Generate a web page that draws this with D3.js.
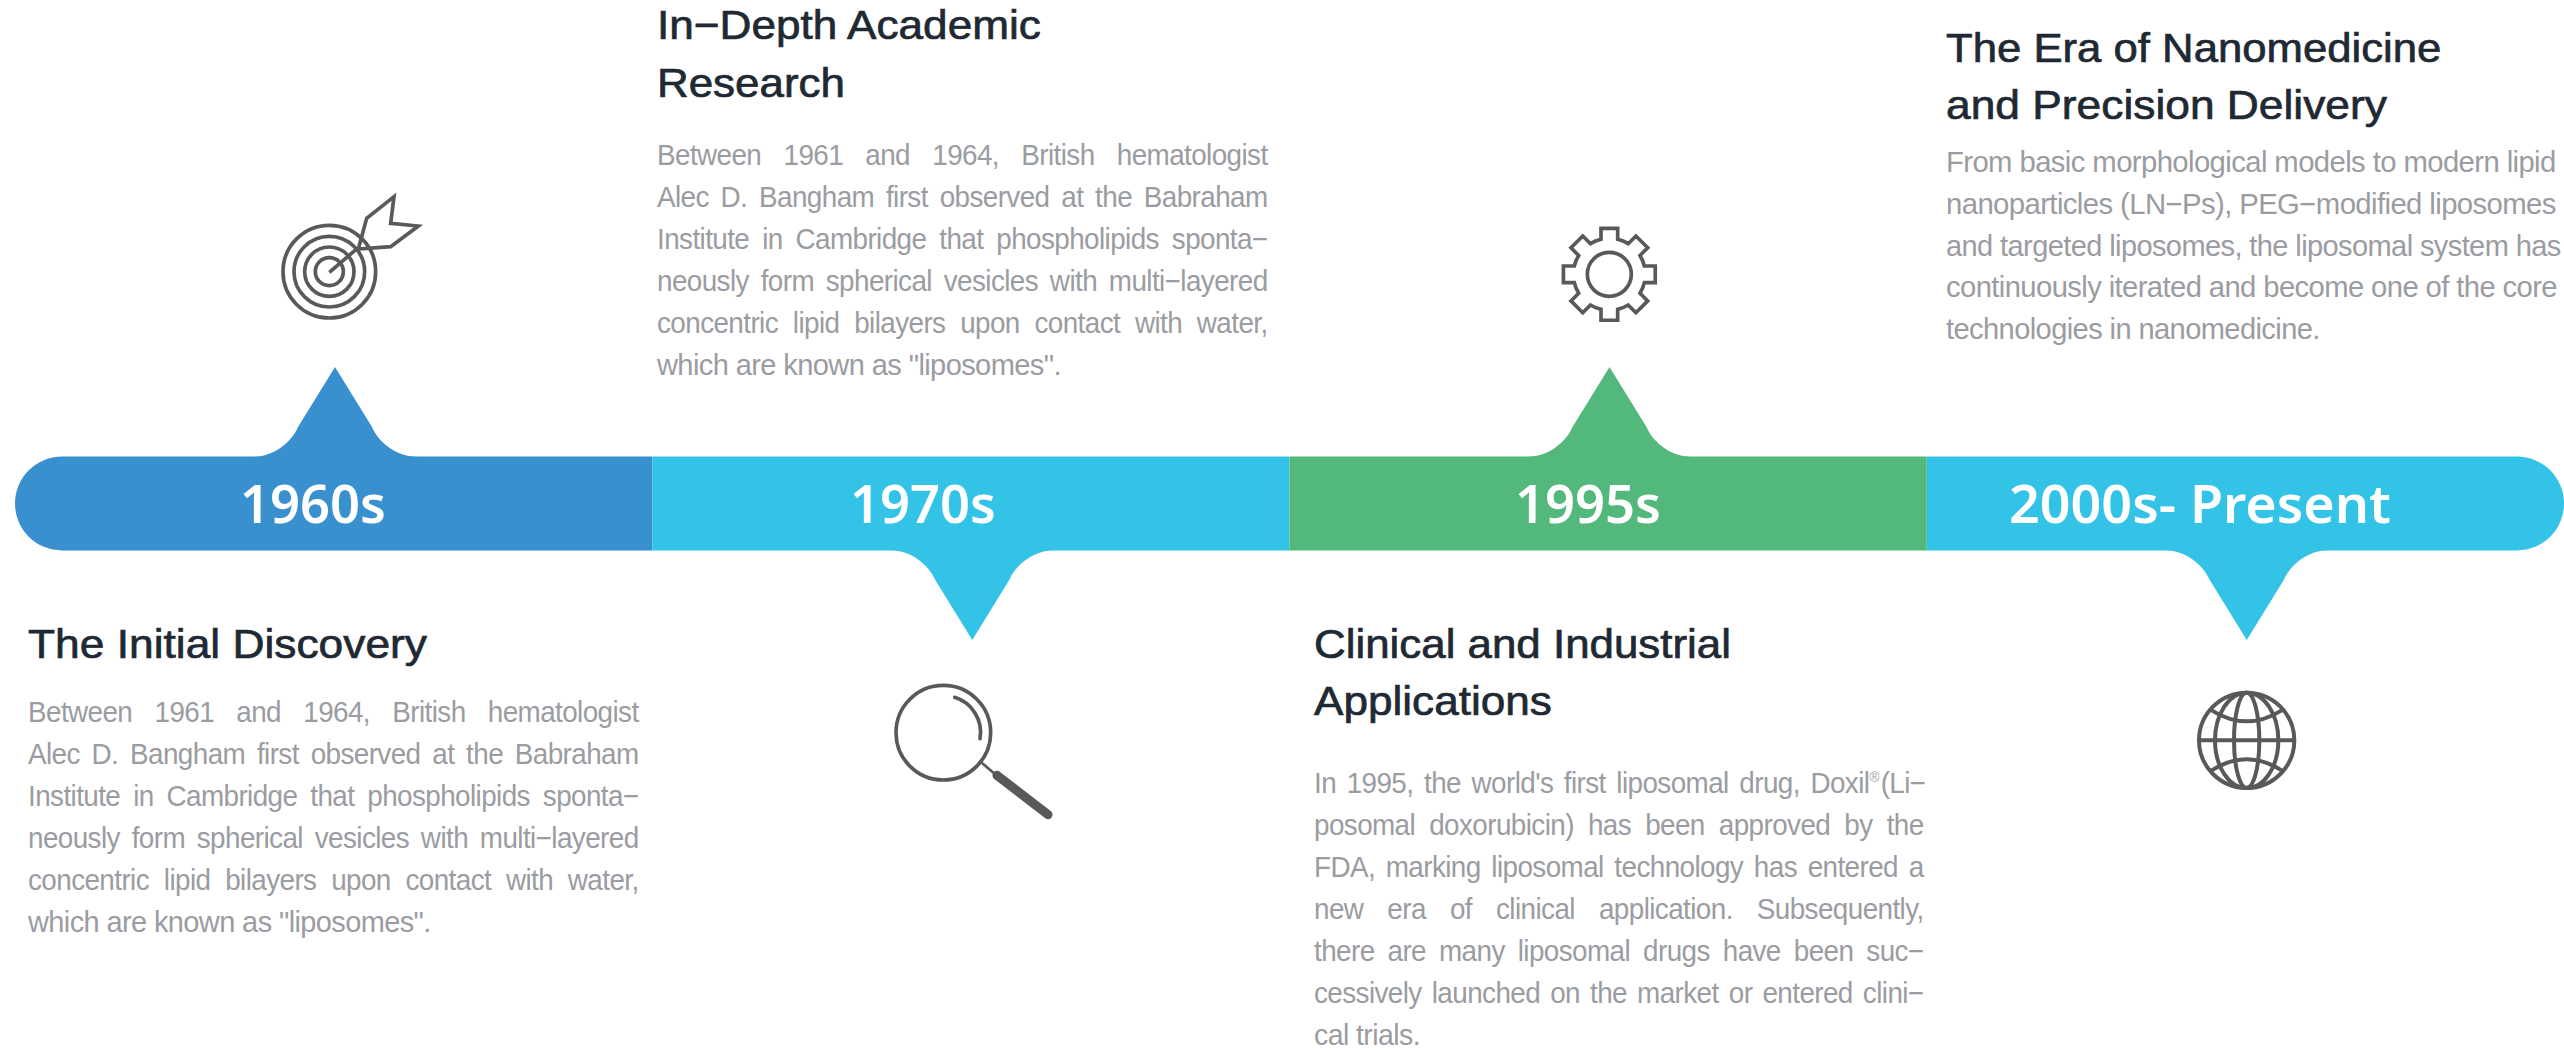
<!DOCTYPE html>
<html><head><meta charset="utf-8">
<script src="https://cdn.jsdelivr.net/npm/d3@7"></script>
<style>html,body{margin:0;padding:0;background:#fff;overflow:hidden}svg{display:block}</style>
</head><body><svg id="c" width="2564" height="1050"></svg>
<script>
const eras = ["1960s","1970s","1995s","2000s- Present"];
const eraColors = ["#3990CF","#32C3E6","#52B87B","#32C3E6"];
const titles = [
  ["The Initial Discovery"],
  ["In−Depth Academic","Research"],
  ["Clinical and Industrial","Applications"],
  ["The Era of Nanomedicine","and Precision Delivery"]
];
const bodies = [
  ["Between 1961 and 1964, British hematologist","Alec D. Bangham first observed at the Babraham","Institute in Cambridge that phospholipids sponta−","neously form spherical vesicles with multi−layered","concentric lipid bilayers upon contact with water,","which are known as \"liposomes\"."],
  ["Between 1961 and 1964, British hematologist","Alec D. Bangham first observed at the Babraham","Institute in Cambridge that phospholipids sponta−","neously form spherical vesicles with multi−layered","concentric lipid bilayers upon contact with water,","which are known as \"liposomes\"."],
  ["In 1995, the world's first liposomal drug, Doxil®(Li−","posomal doxorubicin) has been approved by the","FDA, marking liposomal technology has entered a","new era of clinical application. Subsequently,","there are many liposomal drugs have been suc−","cessively launched on the market or entered clini−","cal trials."],
  ["From basic morphological models to modern lipid","nanoparticles (LN−Ps), PEG−modified liposomes","and targeted liposomes, the liposomal system has","continuously iterated and become one of the core","technologies in nanomedicine."]
];

// layout
const W=2564,H=1050, barTop=456.6, barBot=550.4, radius=46.9;
const x=d3.scaleLinear().domain([0,4]).range([15,2564]);
const eraLabel=[{x:240,w:146},{x:850,w:146},{x:1515,w:146},{x:2009,w:382}];
const pinUp=[true,false,true,false];
const col=[
 {x:28,end:639,titleBase:[658],bodyBase:722,step:41.9,just:5,lastEnd:431},
 {x:657,end:1268,titleBase:[39,97],bodyBase:165,step:41.9,just:5,lastEnd:1061},
 {x:1314,end:1924,titleBase:[658,715],bodyBase:793,step:42,just:6,lastEnd:1420},
 {x:1946,end:2557,titleBase:[62,119],bodyBase:172,step:41.8,just:0,lastEnd:2320,ends:[2556,2556,2561,2557]}
];
const titleEnds=[[427],[1041,845],[1731,1552],[2441.5,2387]];
const bodySqueeze=0.96;
const svg=d3.select("#c");

function fit(t,xp,y,w){
  const n=t.node().getComputedTextLength();
  t.attr("transform",`translate(${xp},${y}) scale(${w/n},1)`);
}
function addLine(g,str,attrs){
  const t=g.append("text");
  Object.entries(attrs).forEach(([k,v])=>t.attr(k,v));
  const m=str.indexOf("®");
  if(m>=0){
    t.append("tspan").text(str.slice(0,m));
    t.append("tspan").attr("font-size",14).attr("dy",-11).text("®");
    t.append("tspan").attr("dy",11).attr("dx",2).text(str.slice(m+1));
  } else t.text(str);
  return t;
}

// bar segments
const seg=svg.append("g");
eras.forEach((e,i)=>{
  const x0=x(i),x1=x(i+1);
  let d;
  if(i===0) d=`M${x1},${barTop}H${x0+radius}A${radius},${radius} 0 0 0 ${x0+radius},${barBot}H${x1}Z`;
  else if(i===3) d=`M${x0},${barTop}H${x1-radius}A${radius},${radius} 0 0 1 ${x1-radius},${barBot}H${x0}Z`;
  else d=`M${x0},${barTop}H${x1}V${barBot}H${x0}Z`;
  seg.append("path").attr("d",d).attr("fill",eraColors[i]);
  const c=x(i)+320, up=pinUp[i], b=up?barTop+.5:barBot-.5, s=up?-1:1;
  const p=d3.path();
  p.moveTo(c-83,b);
  p.bezierCurveTo(c-62,b,c-44,b+s*14,c-37,b+s*30);
  p.lineTo(c,b+s*90);
  p.lineTo(c+37,b+s*30);
  p.bezierCurveTo(c+44,b+s*14,c+62,b,c+83,b);
  p.closePath();
  seg.append("path").attr("d",p.toString()).attr("fill",eraColors[i]);
  const t=svg.append("text").attr("font-family","Noto Sans").attr("font-weight",600)
    .attr("font-size",53).attr("fill","#fff").text(e);
  fit(t,eraLabel[i].x,523,eraLabel[i].w);
});

// text
const tg=svg.append("g");
col.forEach((c,i)=>{
  titles[i].forEach((s,j)=>{
    const t=addLine(tg,s,{"font-family":"Liberation Sans","font-size":41,fill:"#1F2933",stroke:"#1F2933","stroke-width":0.7});
    fit(t,c.x,c.titleBase[j],titleEnds[i][j]-c.x);
  });
  bodies[i].forEach((s,j)=>{
    const y=c.bodyBase+c.step*j;
    const t=addLine(tg,s,{"font-family":"Liberation Sans","font-size":29,fill:"#9A9CA1"});
    t.style("letter-spacing","-0.6px");
    if(j<c.just){
      const n=t.node().getComputedTextLength(), sp=s.split(" ").length-1;
      t.style("word-spacing",(((c.end-c.x)/bodySqueeze-n)/sp)+"px");
      t.attr("transform",`translate(${c.x},${y}) scale(${bodySqueeze},1)`);
    } else {
      const e=j===bodies[i].length-1?c.lastEnd:(c.ends?c.ends[j]:c.end);
      fit(t,c.x,y,e-c.x);
    }
  });
});

// icons (drawn in 3× zoomed local units)
const ink="#595959";
function icon(ox,oy){return svg.append("g").attr("transform",`translate(${ox},${oy}) scale(${1/3})`)
  .attr("fill","none").attr("stroke",ink).attr("stroke-width",11);}
// target
const a=icon(250,180);
[139,106,74,42].forEach(r=>a.append("circle").attr("cx",238).attr("cy",275).attr("r",r));
a.append("path").attr("d","M238,277L322,205M325,207L350,115L432,50L422,130L505,138L422,200Z").attr("stroke-linejoin","miter");
// magnifier
const m=icon(870,660);
m.append("circle").attr("cx",220).attr("cy",218).attr("r",142);
m.append("path").attr("d","M254,112A110,110 0 0 1 330,236").attr("stroke-linecap","round");
m.append("path").attr("d","M335,308L378,345").attr("stroke-width",8);
m.append("path").attr("d","M381,346L534,464").attr("stroke-width",27).attr("stroke-linecap","round");
// gear
const g=icon(1530,200);
g.append("circle").attr("cx",238).attr("cy",223).attr("r",66);
const cx=238,cy=223,ro=140,ri=108,hw=25;
const pt=(r,ang)=>[cx+r*Math.cos(ang),cy+r*Math.sin(ang)];
const gp=d3.path();
d3.range(8).forEach(k=>{
  const an=-Math.PI/2+k*Math.PI/4, d1=Math.asin(hw/ri), d2=Math.asin(hw/ro);
  const p1=pt(ri,an-d1),p2=pt(ro,an-d2),p3=pt(ro,an+d2),p4=pt(ri,an+d1);
  if(k===0) gp.moveTo(...p1); else gp.arc(cx,cy,ri,an-Math.PI/4+d1,an-d1);
  gp.lineTo(...p2);gp.lineTo(...p3);gp.lineTo(...p4);
  if(k===7) gp.arc(cx,cy,ri,an+d1,an+Math.PI/4-d1);
});
gp.closePath();
g.append("path").attr("d",gp.toString());
// globe
const o=icon(2170,670).attr("stroke-width",12);
o.append("circle").attr("cx",230).attr("cy",211).attr("r",143);
o.append("path").attr("d","M87,211H373");
o.append("ellipse").attr("cx",230).attr("cy",211).attr("rx",38).attr("ry",143);
o.append("ellipse").attr("cx",230).attr("cy",211).attr("rx",95).attr("ry",143);
o.append("path").attr("d","M125,121Q230,187 335,121M125,301Q230,235 335,301");
</script></body></html>
